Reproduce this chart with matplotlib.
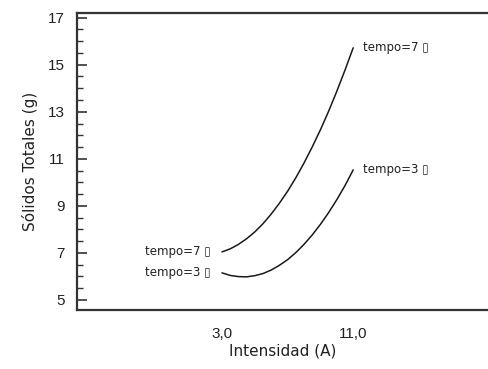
import matplotlib
matplotlib.use("Agg")
import matplotlib.pyplot as plt
from matplotlib.ticker import FixedLocator, MultipleLocator

plt.rcParams['font.family'] = ['Liberation Sans', 'DejaVu Sans']

# Data
intensidad = [3.0, 3.5, 4.0, 4.5, 5.0, 5.5, 6.0, 6.5, 7.0, 7.5, 8.0, 8.5, 9.0, 9.5, 10.0, 10.5, 11.0]
tempo7 = [7.04, 7.17, 7.36, 7.60, 7.89, 8.24, 8.65, 9.11, 9.62, 10.19, 10.82, 11.50,
          12.23, 13.02, 13.87, 14.77, 15.72]
tempo3 = [6.15, 6.04, 5.99, 5.98, 6.03, 6.12, 6.27, 6.47, 6.71, 7.01, 7.36, 7.76,
          8.21, 8.71, 9.26, 9.86, 10.53]
series_labels = ["tempo=7 \u25af", "tempo=3 \u25af"]
xticks = [3.0, 11.0]
xticklabels = ["3,0", "11,0"]
yticks = [5, 7, 9, 11, 13, 15, 17]

W, H = 489, 369
fig = plt.figure(figsize=(W / 100, H / 100), dpi=100)
ax = fig.add_axes([77 / W, 1 - 310 / H, 1 - 77 / W, (310 - 13) / H])

text_color = '#222222'
lab_font = ['DejaVu Sans']
for ys, lab in zip([tempo7, tempo3], series_labels):
    ax.plot(intensidad, ys, color='#1a1a1a', lw=1.1, solid_capstyle='round')
    ax.annotate(lab, xy=(intensidad[0], ys[0]), xytext=(-8, 0),
                textcoords='offset points', ha='right', va='center',
                fontsize=8.5, color=text_color, family=lab_font)
    ax.annotate(lab, xy=(intensidad[-1], ys[-1]), xytext=(7, 0),
                textcoords='offset points', ha='left', va='center',
                fontsize=8.5, color=text_color, family=lab_font)

ax.set_xlim(-5.84, 19.28)
ax.set_ylim(4.57, 17.2)

ax.xaxis.set_major_locator(FixedLocator(xticks))
ax.set_xticklabels(xticklabels)
ax.yaxis.set_major_locator(FixedLocator(yticks))
ax.yaxis.set_minor_locator(MultipleLocator(0.5))

ax.tick_params(axis='x', which='both', length=0, pad=12, labelsize=11, labelcolor=text_color)
ax.tick_params(axis='y', which='major', direction='in', length=7, width=1.2,
               color='#333333', pad=9, labelsize=11, labelcolor=text_color)
ax.tick_params(axis='y', which='minor', direction='in', length=4, width=1.0,
               color='#333333')

for side in ['left', 'top', 'bottom']:
    ax.spines[side].set_color('#333333')
    ax.spines[side].set_linewidth(1.6)
ax.spines['right'].set_visible(False)

ax.set_xlabel("Intensidad (A)", fontsize=11, color=text_color, labelpad=2,
              family=['DejaVu Sans'])
ax.set_ylabel("Sólidos Totales (g)", fontsize=11, color=text_color, labelpad=7,
              family=['DejaVu Sans'])

fig.savefig("out.png", dpi=100)
